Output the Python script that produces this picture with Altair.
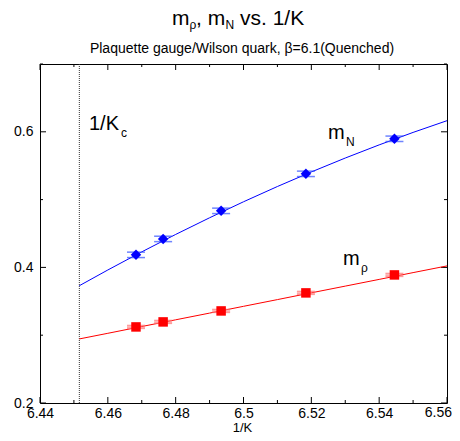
import altair as alt
import pandas as pd

# ---- data ----
inv_k = [6.4683, 6.4763, 6.4934, 6.5184, 6.5445]
m_N = [0.4185, 0.4420, 0.4834, 0.5380, 0.5897]
m_rho = [0.3122, 0.3196, 0.3358, 0.3624, 0.3889]
err_N = [0.004, 0.004, 0.004, 0.004, 0.004]
err_rho = [0.0018, 0.0018, 0.0018, 0.0018, 0.0018]

fit_x = [6.4516, 6.46, 6.47, 6.48, 6.49, 6.50, 6.51, 6.52, 6.53, 6.54, 6.55, 6.56]
fit_N = [0.3730, 0.3962, 0.4229, 0.4486, 0.4732, 0.4968, 0.5193, 0.5408,
         0.5613, 0.5807, 0.5991, 0.6164]
fit_rho = [0.2945, 0.3028, 0.3128, 0.3227, 0.3326, 0.3426, 0.3525, 0.3625,
           0.3724, 0.3823, 0.3923, 0.4022]

inv_kc = [6.4516]

x_major = [6.44, 6.46, 6.48, 6.50, 6.52, 6.54, 6.56]
x_minor = [6.45, 6.47, 6.49, 6.51, 6.53, 6.55]
y_major = [0.2, 0.4, 0.6]
y_minor = [0.3, 0.5, 0.7]

W, H = 407, 339
FONT = "Liberation Sans"
LAB_BASE = 14   # x tick label baseline below the plot

pts = pd.DataFrame({"x": inv_k, "mN": m_N, "mr": m_rho})
pts["mN_lo"] = [v - e for v, e in zip(m_N, err_N)]
pts["mN_hi"] = [v + e for v, e in zip(m_N, err_N)]
pts["mr_lo"] = [v - e for v, e in zip(m_rho, err_rho)]
pts["mr_hi"] = [v + e for v, e in zip(m_rho, err_rho)]
fit = pd.DataFrame({"x": fit_x, "fN": fit_N, "fr": fit_rho})

xs = alt.Scale(domain=[6.44, 6.56], nice=False, zero=False)
ys = alt.Scale(domain=[0.2, 0.7], nice=False, zero=False)

X = alt.X("x:Q", scale=xs, axis=alt.Axis(
    values=x_major, format=".2~f", ticks=False, tickSize=0, domain=False, grid=False,
    labelFontSize=14, labelFont=FONT, labelPadding=LAB_BASE, labelBaseline="alphabetic",
    labelFlush=False, labelExpr="datum.value > 6.555 ? '' : datum.label",
    title=None, labelColor="black"))


def Y(field):
    return alt.Y(field, type="quantitative", scale=ys, axis=alt.Axis(
        values=y_major, format=".1f", ticks=False, tickSize=0, domain=False, grid=False,
        labelFontSize=14, labelFont=FONT, labelPadding=7, labelColor="black",
        title=None))


base = alt.Chart(pts)

line_N = alt.Chart(fit).mark_line(color="#0000ff", strokeWidth=1).encode(x=X, y=Y("fN"))
line_r = alt.Chart(fit).mark_line(color="#ff0000", strokeWidth=1).encode(x=X, y=Y("fr"))

capN_lo = base.mark_tick(orient="horizontal", size=18, thickness=1.5, color="#3050ff").encode(x=X, y=Y("mN_lo"))
capN_hi = base.mark_tick(orient="horizontal", size=18, thickness=1.5, color="#3050ff").encode(x=X, y=Y("mN_hi"))
capr_lo = base.mark_tick(orient="horizontal", size=18, thickness=2, color="#ff7070").encode(x=X, y=Y("mr_lo"))
capr_hi = base.mark_tick(orient="horizontal", size=18, thickness=2, color="#ff7070").encode(x=X, y=Y("mr_hi"))

ptsN = base.mark_point(shape="diamond", filled=True, size=110, color="#0000ff", opacity=1).encode(x=X, y=Y("mN"))
ptsr = base.mark_point(shape="square", filled=True, size=90, color="#ff0000", opacity=1).encode(x=X, y=Y("mr"))

kc = alt.Chart(pd.DataFrame({"x": inv_kc})).mark_rule(
    color="#333333", strokeWidth=1, strokeDash=[1, 1]).encode(x=X)

# inward ticks on all four sides
def xticks(vals, length):
    d = alt.Chart(pd.DataFrame({"x": vals}))
    bot = d.mark_rule(color="black").encode(x=X, y=alt.value(H), y2=alt.value(H - length))
    top = d.mark_rule(color="black").encode(x=X, y=alt.value(0), y2=alt.value(length))
    return [bot, top]


def yticks(vals, length):
    d = alt.Chart(pd.DataFrame({"yv": vals}))
    lft = d.mark_rule(color="black").encode(y=Y("yv"), x=alt.value(0), x2=alt.value(length))
    rgt = d.mark_rule(color="black").encode(y=Y("yv"), x=alt.value(W), x2=alt.value(W - length))
    return [lft, rgt]


one = pd.DataFrame({"a": [0]})


def txt(s, px, py, size, align="left"):
    return alt.Chart(one).mark_text(
        text=s, font=FONT, fontSize=size, align=align, baseline="alphabetic",
        color="black").encode(x=alt.value(px), y=alt.value(py))


texts = [
    # title  (plot-relative pixels)
    txt("m", 132, -39, 21), txt("ρ", 149.5, -35, 12),
    txt(", m", 156, -39, 21), txt("N", 185.5, -35, 12),
    txt("vs. 1/K", 200, -39, 21),
    txt("Plaquette gauge/Wilson quark, β=6.1(Quenched)", 202, -11, 14, align="center"),
    # annotations
    txt("1/K", 49, 66, 20), txt("c", 81, 73, 12),
    txt("m", 288, 75, 20), txt("N", 306, 82, 12),
    txt("m", 303, 201, 20), txt("ρ", 321, 208, 12),
    # last x tick label (kept inside the page) and x-axis title
    txt("6.56", W + 5, H + LAB_BASE, 14, align="right"),
    txt("1/K", 202.5, H + 28.5, 13, align="center"),
]

layers = (xticks(x_major, 6) + xticks(x_minor, 3) + yticks(y_major, 6) + yticks(y_minor, 3)
          + [kc, line_N, line_r, capN_lo, capN_hi, capr_lo, capr_hi, ptsN, ptsr] + texts)

chart = alt.layer(*layers).properties(
    width=W, height=H,
    autosize=alt.AutoSizeParams(type="none"),
    padding={"left": 32, "top": 56, "right": 5, "bottom": 30},
    background="white",
).configure_view(stroke="black", strokeWidth=1)

chart.save("out.html", embed_options={"renderer": "svg", "actions": False})
